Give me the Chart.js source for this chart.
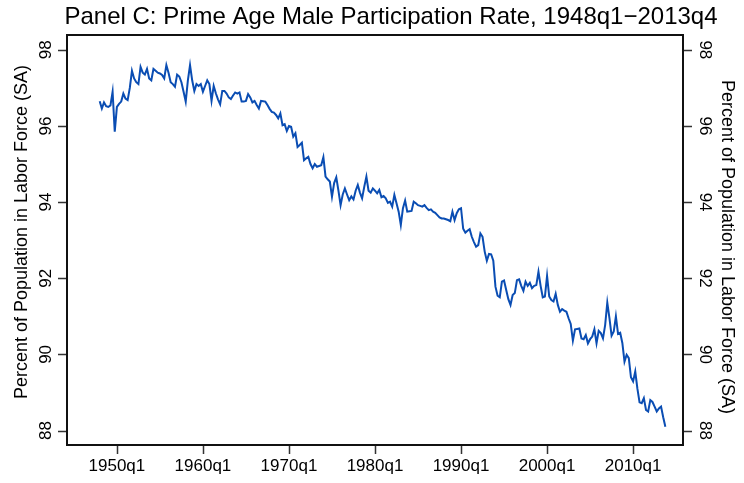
<!DOCTYPE html>
<html>
<head>
<meta charset="utf-8">
<script src="https://cdn.jsdelivr.net/npm/chart.js@4/dist/chart.umd.min.js"></script>
<style>
  body { margin: 0; background: #fff; }
  #wrap { width: 744px; height: 483px; }
</style>
</head>
<body>
<div id="wrap"><canvas id="chart" width="744" height="483"></canvas></div>
<script>
// quarterly series, 1948q1 .. 2013q4
const startYear = 1948;
const participation = [
  96.65, 96.46, 96.62, 96.52, 96.50, 96.54, 96.90, 95.85, 96.50, 96.58,
  96.64, 96.85, 96.72, 96.68, 97.00, 97.45, 97.25, 97.15, 97.10, 97.55,
  97.40, 97.35, 97.50, 97.25, 97.20, 97.50, 97.45, 97.40, 97.38, 97.34,
  97.25, 97.60, 97.40, 97.15, 97.10, 97.03, 97.35, 97.30, 97.15, 96.90,
  96.64, 97.20, 97.60, 97.20, 96.92, 97.10, 97.05, 97.10, 96.90, 97.05,
  97.20, 97.10, 96.66, 97.05, 96.86, 96.70, 96.57, 96.92, 96.92, 96.85,
  96.75, 96.71, 96.80, 96.88, 96.85, 96.88, 96.64, 96.64, 96.66, 96.84,
  96.75, 96.62, 96.66, 96.55, 96.46, 96.66, 96.65, 96.64, 96.55, 96.45,
  96.37, 96.35, 96.29, 96.20, 96.33, 96.02, 96.05, 95.87, 96.00, 95.98,
  95.72, 95.81, 95.45, 95.50, 95.56, 95.10, 95.15, 95.19, 95.00, 94.89,
  95.00, 94.93, 94.95, 94.97, 95.18, 94.67, 94.60, 94.54, 94.14, 94.50,
  94.65, 94.30, 93.92, 94.20, 94.36, 94.20, 94.05, 94.15, 94.07, 94.30,
  94.45, 94.25, 94.10, 94.40, 94.67, 94.30, 94.25, 94.36, 94.30, 94.23,
  94.32, 94.13, 94.16, 94.10, 93.98, 94.01, 93.88, 94.19, 93.97, 93.75,
  93.40, 93.84, 94.04, 93.75, 93.76, 93.77, 94.01, 93.97, 93.92, 93.90,
  93.88, 93.92, 93.85, 93.79, 93.81, 93.75, 93.72, 93.66, 93.60, 93.57,
  93.57, 93.55, 93.53, 93.50, 93.75, 93.53, 93.71, 93.81, 93.84, 93.30,
  93.20, 93.25, 93.29, 93.09, 92.95, 92.83, 92.87, 93.18, 93.09, 92.70,
  92.46, 92.64, 92.63, 92.46, 91.78, 91.54, 91.50, 91.91, 91.94, 91.69,
  91.45, 91.30, 91.56, 91.61, 91.95, 91.97, 91.80, 91.67, 91.91, 91.80,
  91.88, 91.74, 91.80, 91.82, 92.17, 91.80, 91.50, 91.52, 92.06, 91.52,
  91.43, 91.39, 91.59, 91.30, 91.12, 91.19, 91.15, 91.12, 90.95, 90.80,
  90.36, 90.66, 90.67, 90.68, 90.42, 90.40, 90.51, 90.29, 90.40, 90.47,
  90.66, 90.29, 90.62, 90.56, 90.42, 90.77, 91.36, 90.95, 90.49, 90.60,
  91.00, 90.54, 90.57, 90.30, 89.81, 89.99, 89.90, 89.40, 89.29, 89.55,
  89.10, 88.74, 88.72, 88.85, 88.54, 88.50, 88.80, 88.75, 88.63, 88.50,
  88.58, 88.63, 88.35, 88.10
];
const xTickYears = [1950, 1960, 1970, 1980, 1990, 2000, 2010];
const xTickLabels = ["1950q1", "1960q1", "1970q1", "1980q1", "1990q1", "2000q1", "2010q1"];
const yTicks = [88, 90, 92, 94, 96, 98];

const titleText = "Panel C: Prime Age Male Participation Rate, 1948q1\u22122013q4";
const yTitle = "Percent of Population in Labor Force (SA)";
const FONT = "'Liberation Sans', Arial, sans-serif";

const points = participation.map((v, i) => ({ x: startYear + i / 4, y: v }));

const framePlugin = {
  id: "frame",
  afterDraw(chart) {
    const { ctx, chartArea: a, scales } = chart;
    const xs = scales.x, ys = scales.y;
    ctx.save();
    // ticks
    ctx.strokeStyle = "#333";
    ctx.lineWidth = 1.5;
    ctx.beginPath();
    yTicks.forEach((t) => {
      const py = Math.round(ys.getPixelForValue(t)) + 0.5;
      ctx.moveTo(a.left - 9, py); ctx.lineTo(a.left, py);
      ctx.moveTo(a.right, py); ctx.lineTo(a.right + 9, py);
    });
    xTickYears.forEach((t) => {
      const px = Math.round(xs.getPixelForValue(t)) + 0.5;
      ctx.moveTo(px, a.bottom); ctx.lineTo(px, a.bottom + 9);
    });
    ctx.stroke();
    // box
    ctx.strokeStyle = "#111";
    ctx.lineWidth = 2;
    ctx.strokeRect(a.left, a.top, a.right - a.left, a.bottom - a.top);

    ctx.fillStyle = "#000";
    ctx.font = "17px " + FONT;
    ctx.textAlign = "center";
    ctx.textBaseline = "middle";
    xTickYears.forEach((t, i) => {
      ctx.fillText(xTickLabels[i], xs.getPixelForValue(t), a.bottom + 21);
    });
    yTicks.forEach((t) => {
      const py = ys.getPixelForValue(t);
      ctx.save();
      ctx.translate(a.left - 21, py);
      ctx.rotate(-Math.PI / 2);
      ctx.fillText(String(t), 0, 0);
      ctx.restore();
      ctx.save();
      ctx.translate(a.right + 22, py);
      ctx.rotate(Math.PI / 2);
      ctx.fillText(String(t), 0, 0);
      ctx.restore();
    });
    // axis titles
    ctx.font = "18px " + FONT;
    ctx.save();
    ctx.translate(22, 232);
    ctx.rotate(-Math.PI / 2);
    ctx.fillText(yTitle, 0, 0);
    ctx.restore();
    ctx.save();
    ctx.translate(727, 247);
    ctx.rotate(Math.PI / 2);
    ctx.fillText(yTitle, 0, 0);
    ctx.restore();
    // title
    ctx.font = "24px " + FONT;
    ctx.fillText(titleText, 391, 17);
    ctx.restore();
  },
};

new Chart(document.getElementById("chart"), {
  type: "line",
  data: {
    datasets: [
      {
        data: points,
        borderColor: "#0a4db3",
        borderWidth: 2,
        pointRadius: 0,
        tension: 0,
        fill: false,
      },
    ],
  },
  options: {
    responsive: false,
    animation: false,
    layout: { padding: { left: 67, right: 61, top: 35, bottom: 38 } },
    plugins: { legend: { display: false }, tooltip: { enabled: false } },
    scales: {
      x: { type: "linear", min: 1944.2, max: 2015.8, display: false },
      y: { min: 87.62, max: 98.39, display: false },
    },
  },
  plugins: [framePlugin],
});
</script>
</body>
</html>
